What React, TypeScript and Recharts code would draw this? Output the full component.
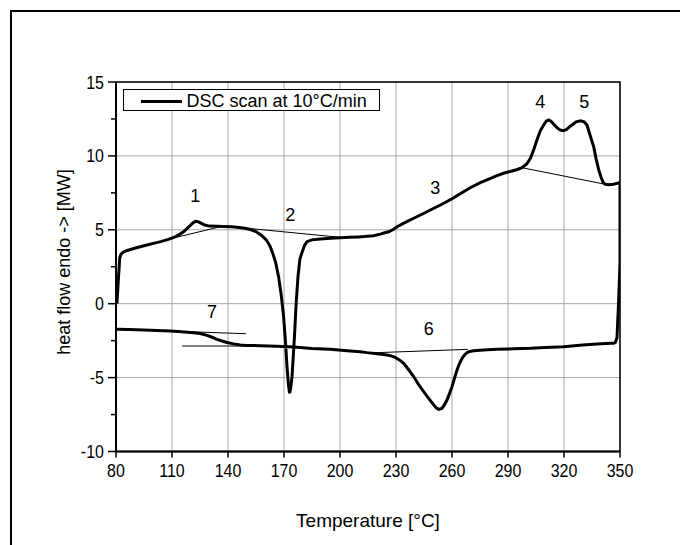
import React from "react";
import {
  CartesianGrid,
  Label,
  Line,
  LineChart,
  ReferenceArea,
  ReferenceDot,
  ReferenceLine,
  XAxis,
  YAxis,
} from "recharts";

// heating run, 80 -> 350 °C
const heatT = [
  80.5, 81.2, 82.0, 82.7, 84, 86, 90, 95, 100, 104, 108, 111, 114, 116.5, 119, 121, 122.5, 124, 125.5,
  127.5, 130, 134, 137.5, 142, 146, 149, 152, 155, 158, 160.5, 162.5, 164, 165.5, 167.1, 168.5, 169.8,
  170.8, 171.6, 172.4, 173, 173.6, 174.3, 175, 175.7, 176.5, 177.5, 178.5, 179.6, 181, 182.3, 185, 189.5,
  195, 200, 205, 210, 213, 218, 221.6, 224, 226.1, 228.5, 230.6, 235, 239.5, 245, 250, 253.8, 260, 266.2,
  270, 275.2, 280, 284.1, 288, 292.2, 295, 297.5, 300, 302, 304, 305.5, 307.3, 309.1, 310.5, 311.8, 313,
  314.5, 316.5, 318, 319.8, 321.5, 323, 324.3, 326.5, 328.8, 330.8, 332.3, 333.5, 334.7, 335.9, 337.2,
  338.6, 340, 341, 342.1, 344, 346.6, 349.8, 350, 350, 349.2, 348.4, 347.5, 346.6,
];
const heatV = [
  0, 1.5, 3.1, 3.35, 3.5, 3.6, 3.75, 3.92, 4.08, 4.2, 4.35, 4.48, 4.68, 4.9, 5.2, 5.45, 5.57, 5.55, 5.45,
  5.32, 5.25, 5.24, 5.22, 5.2, 5.16, 5.1, 5.02, 4.88, 4.62, 4.32, 3.9, 3.4, 2.8, 1.83, 0.6, -0.88,
  -2.6, -4.26, -5.5, -6.06, -5.7, -4.94, -3.5, -2.0, 0, 1.83, 3.0, 3.45, 3.95, 4.2, 4.32, 4.38,
  4.42, 4.47, 4.5, 4.52, 4.54, 4.6, 4.71, 4.8, 4.87, 5.02, 5.21, 5.5, 5.78, 6.12, 6.44, 6.68, 7.1, 7.58,
  7.86, 8.19, 8.45, 8.66, 8.84, 8.98, 9.08, 9.2, 9.45, 9.84, 10.5, 11.08, 11.7, 12.09, 12.35, 12.43, 12.35,
  12.14, 11.88, 11.75, 11.71, 11.8, 11.97, 12.09, 12.3, 12.38, 12.3, 12.09, 11.6, 11.1, 10.62, 9.8,
  9.05, 8.5, 8.2, 8.08, 8.05, 8.08, 8.19, 8.1, 2.75, 0, -2.3, -2.62, -2.68,
];

// cooling run, 350 -> 80 °C
const coolT = [
  344.8, 337.7, 330, 319.8, 310, 302, 293, 284.1, 277, 271.6, 269.5, 268.1, 266.8, 265.4, 264, 262.7,
  261.3, 260, 258.6, 257.3, 256, 254.6, 252.8, 251.5, 250.2, 247.5, 244.8, 242, 239.5, 236.8, 234.1,
  231.8, 229.6, 227.4, 225.2, 220, 214.5, 210.9, 203.8, 194.8, 185, 175.2, 166, 157.3, 150, 146.6, 143,
  139.5, 136.8, 134.1, 131.5, 128.8, 125, 121.6, 115, 109.1, 102, 94.8, 87, 80.5,
];
const coolV = [
  -2.68, -2.73, -2.8, -2.91, -2.97, -3.02, -3.05, -3.09, -3.13, -3.18, -3.23, -3.31, -3.45, -3.69, -4.05,
  -4.49, -5.05, -5.62, -6.1, -6.52, -6.83, -7.08, -7.15, -7.05, -6.85, -6.4, -5.95, -5.45, -4.94, -4.47,
  -4.03, -3.8, -3.63, -3.53, -3.47, -3.38, -3.31, -3.25, -3.18, -3.09, -3.03, -2.93, -2.88, -2.84, -2.82,
  -2.8, -2.72, -2.62, -2.52, -2.41, -2.27, -2.14, -2.02, -1.96, -1.9, -1.85, -1.82, -1.78, -1.75, -1.73,
];

const xTicks = [80, 110, 140, 170, 200, 230, 260, 290, 320, 350];
const yTicks = [-10, -7.5, -5, -2.5, 0, 2.5, 5, 7.5, 10, 12.5, 15];
const yMajor = [-10, -5, 0, 5, 10, 15];

// numbered transitions
const peakNames = ["1", "2", "3", "4", "5", "6", "7"];
const peakT = [122.5, 173.4, 251, 307.3, 330.9, 247.5, 131.4];
const peakV = [7.29, 6.0, 7.85, 13.67, 13.67, -1.71, -0.54];

// thin construction (baseline) lines
const baseT1 = [110, 137.6, 297.5, 216, 109, 115.4];
const baseV1 = [4.42, 5.26, 9.2, -3.33, -1.85, -2.86];
const baseT2 = [137.6, 200.2, 342.1, 268.5, 149.6, 150];
const baseV2 = [5.26, 4.49, 8.08, -3.09, -2.03, -2.86];
const baseColor = ["#000", "#000", "#000", "#000", "#000", "#555"];

const data = [
  ...heatT.map((t, i) => ({ t, v: heatV[i] })),
  ...coolT.map((t, i) => ({ t, v: coolV[i] })),
];

const font = "'Liberation Sans', Arial, sans-serif";

const XTick = (props: any) => {
  const { x, y, payload } = props;
  return (
    <g>
      <line x1={x} x2={x} y1={y} y2={y + 6} stroke="#000" strokeWidth={1.5} />
      <text
        transform={`translate(${x},${y + 25}) scale(1,1.15)`}
        textAnchor="middle"
        fontSize={16}
        fontFamily={font}
        fill="#000"
      >
        {payload.value}
      </text>
    </g>
  );
};

const YTick = (props: any) => {
  const { x, y, payload } = props;
  const major = payload.value % 5 === 0;
  return (
    <g>
      <line x1={x - (major ? 8 : 5)} x2={x} y1={y} y2={y} stroke="#000" strokeWidth={1.5} />
      {major && (
        <text
          transform={`translate(${x - 12},${y + 6.5}) scale(1,1.15)`}
          textAnchor="end"
          fontSize={16}
          fontFamily={font}
          fill="#000"
        >
          {payload.value}
        </text>
      )}
    </g>
  );
};

export default function App() {
  return (
    <div
      style={{
        position: "absolute",
        left: 0,
        top: 0,
        width: 680,
        height: 545,
        overflow: "hidden",
        background: "#fff",
        fontFamily: font,
      }}
    >
      <div
        style={{
          position: "absolute",
          left: 10,
          top: 10,
          width: 700,
          height: 560,
          borderLeft: "2px solid #000",
          borderTop: "2px solid #000",
        }}
      />
      <div style={{ position: "absolute", left: 0, top: 0 }}>
        <LineChart
          width={680}
          height={545}
          data={data}
          margin={{ top: 82, right: 60, bottom: 63.5, left: 0 }}
        >
          <CartesianGrid
            stroke="#a8a8a8"
            strokeWidth={1}
            horizontalValues={yMajor}
            verticalValues={xTicks}
          />
          <XAxis
            dataKey="t"
            type="number"
            domain={[80, 350]}
            ticks={xTicks}
            interval={0}
            tickSize={0}
            tickMargin={0}
            tickLine={false}
            axisLine={{ stroke: "#000", strokeWidth: 2 }}
            tick={(p: any) => <XTick {...p} />}
            height={30}
            allowDataOverflow
          >
            <Label
              content={() => (
                <text x={368} y={527} textAnchor="middle" fontSize={19} fontFamily={font} fill="#000">
                  Temperature [°C]
                </text>
              )}
            />
          </XAxis>
          <YAxis
            type="number"
            domain={[-10, 15]}
            ticks={yTicks}
            interval={0}
            tickSize={0}
            tickMargin={0}
            tickLine={false}
            axisLine={{ stroke: "#000", strokeWidth: 2 }}
            tick={(p: any) => <YTick {...p} />}
            width={116}
            allowDataOverflow
          >
            <Label
              content={() => (
                <text
                  transform="translate(70,262) rotate(-90)"
                  textAnchor="middle"
                  fontSize={18}
                  fontFamily={font}
                  fill="#000"
                >
                  heat flow endo -&gt; [MW]
                </text>
              )}
            />
          </YAxis>
          {baseT1.map((t, i) => (
            <ReferenceLine
              key={"b" + i}
              segment={[
                { x: t, y: baseV1[i] },
                { x: baseT2[i], y: baseV2[i] },
              ]}
              stroke={baseColor[i]}
              strokeWidth={i === 5 ? 1.5 : 1}
            />
          ))}
          <Line
            dataKey="v"
            type="linear"
            stroke="#000"
            strokeWidth={3}
            dot={false}
            activeDot={false}
            isAnimationActive={false}
          />
          <ReferenceArea x1={80} x2={350} y1={-10} y2={15} fill="none" stroke="#000" strokeWidth={1.5} />
          {peakNames.map((n, i) => (
            <ReferenceDot
              key={"p" + n}
              x={peakT[i]}
              y={peakV[i]}
              r={0}
              fill="none"
              stroke="none"
              label={{ value: n, position: "center", fontSize: 18, fill: "#000", fontFamily: font }}
            />
          ))}
        </LineChart>
      </div>
      <div
        style={{
          position: "absolute",
          left: 122.5,
          top: 89,
          width: 257,
          height: 22,
          boxSizing: "border-box",
          border: "1px solid #000",
          background: "#fff",
        }}
      >
        <div style={{ position: "absolute", left: 17, top: 9.5, width: 41, height: 3, background: "#000" }} />
        <div
          style={{
            position: "absolute",
            left: 63,
            top: 1,
            fontSize: 18,
            lineHeight: "20px",
            whiteSpace: "nowrap",
            color: "#000",
          }}
        >
          DSC scan at 10°C/min
        </div>
      </div>
    </div>
  );
}
